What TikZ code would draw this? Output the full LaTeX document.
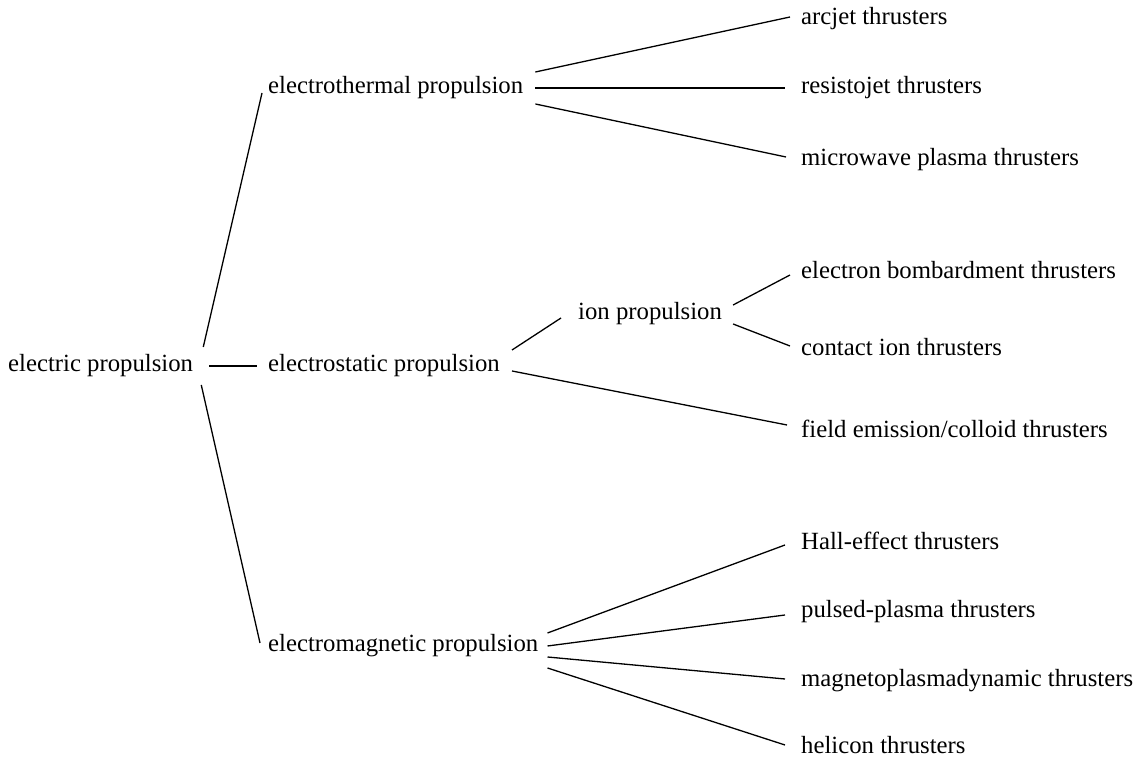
\documentclass[tikz,border=0pt]{standalone}
\usepackage{fontspec}
\setmainfont{Liberation Serif}
\begin{document}
\begin{tikzpicture}[x=1pt,y=1pt,
  lbl/.style={anchor=base west,inner sep=0pt,font=\fontsize{24.75}{30}\selectfont},
  conn/.style={line width=1.3pt}]
\useasboundingbox (0,0) rectangle (1136,760);
% nodes
\node[lbl] (ep)   at (8,388)   {electric propulsion};
\node[lbl] (et)   at (268,666) {electrothermal propulsion};
\node[lbl] (es)   at (268,388) {electrostatic propulsion};
\node[lbl] (em)   at (268,108) {electromagnetic propulsion};
\node[lbl] (ion)  at (578,440) {ion propulsion};
\node[lbl] (arc)  at (801,735) {arcjet thrusters};
\node[lbl] (res)  at (801,666) {resistojet thrusters};
\node[lbl] (mic)  at (801,594) {microwave plasma thrusters};
\node[lbl] (ebt)  at (801,481) {electron bombardment thrusters};
\node[lbl] (cit)  at (801,404) {contact ion thrusters};
\node[lbl] (fec)  at (801,322) {field emission/colloid thrusters};
\node[lbl] (hall) at (801,210) {Hall-effect thrusters};
\node[lbl] (pp)   at (801,142) {pulsed-plasma thrusters};
\node[lbl] (mpd)  at (801,73)  {magnetoplasmadynamic thrusters};
\node[lbl] (hel)  at (801,6)   {helicon thrusters};
% connectors
\draw[conn] ([shift={(10,25)}]ep.base east) -- ([shift={(-6,1)}]et.base west);
\draw[conn] ([shift={(16,6)}]ep.base east) -- ([shift={(-11,6)}]es.base west);
\draw[conn] ([shift={(8,-13)}]ep.base east) -- ([shift={(-8,9)}]em.base west);
\draw[conn] ([shift={(12,22)}]et.base east) -- ([shift={(-11,8)}]arc.base west);
\draw[conn] ([shift={(12,6)}]et.base east) -- ([shift={(-16,6)}]res.base west);
\draw[conn] ([shift={(12,-10)}]et.base east) -- ([shift={(-15,9)}]mic.base west);
\draw[conn] ([shift={(12,22)}]es.base east) -- ([shift={(-17,2)}]ion.base west);
\draw[conn] ([shift={(12,1)}]es.base east) -- ([shift={(-14,13)}]fec.base west);
\draw[conn] ([shift={(11,15)}]ion.base east) -- ([shift={(-11,4)}]ebt.base west);
\draw[conn] ([shift={(11,-4)}]ion.base east) -- ([shift={(-11,10)}]cit.base west);
\draw[conn] ([shift={(9,19)}]em.base east) -- ([shift={(-16,5)}]hall.base west);
\draw[conn] ([shift={(9,6)}]em.base east) -- ([shift={(-16,3)}]pp.base west);
\draw[conn] ([shift={(9,-5)}]em.base east) -- ([shift={(-16,8)}]mpd.base west);
\draw[conn] ([shift={(9,-16)}]em.base east) -- ([shift={(-16,9)}]hel.base west);
\end{tikzpicture}
\end{document}
